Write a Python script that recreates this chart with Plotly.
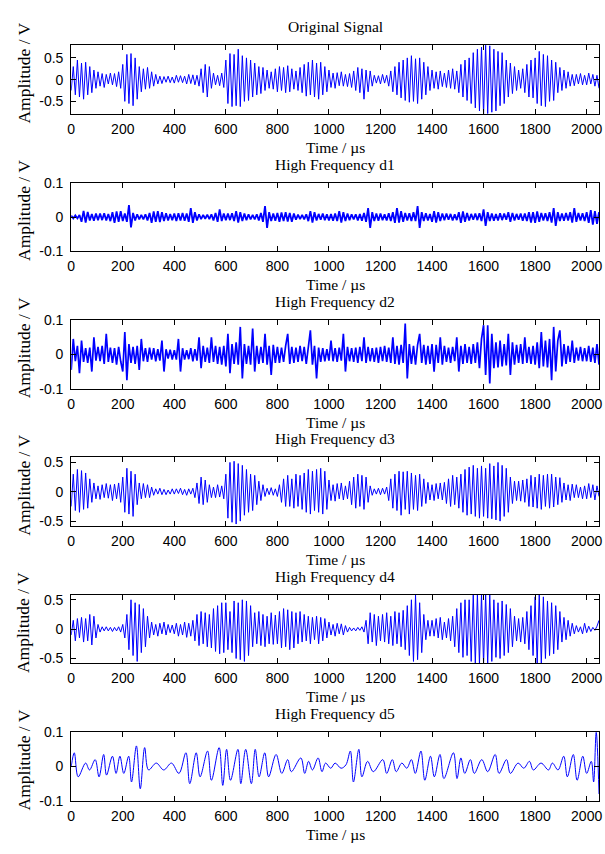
import numpy as np
import plotly.graph_objects as go

# ---------------- data ----------------
STEP_US = 8  # spacing of the read-off extrema, in microseconds

# Original signal, hundredths of a volt, one value every 8 us
orig_cV = [
    -25, 30, -35, 45, -40, 38, -45, 40, -35, 30, -30, 22, -20, 18, -15, 14, -18, 12, -10, 15, -12, 14, -16, 18, -20,
    35, -50, 58, -55, 60, -60, 50, -45, 30, -28, 25, -22, 28, -20, 18, -15, 12, -10, 8, -9, 7, -6, 8, -7, 6,
    -8, 10, -6, 9, -7, 8, -10, 12, -9, 11, -12, 10, -15, 25, -30, 35, -40, 30, -20, 15, -12, 10, -14, 15, -18,
    45, -55, 60, -62, 58, -60, 70, -62, 55, -50, 50, -48, 45, -40, 38, -35, 30, -32, 28, -25, 22, -20, 18, -22, 25,
    -28, 30, -25, 28, -30, 32, -28, 25, -22, 20, -25, 28, -30, 35, -38, 40, -35, 45, -40, 38, -45, 40, -35, 30, -28,
    22, -18, 15, -20, 16, -14, 18, -15, 12, -16, 14, -18, 20, -25, 28, -30, 25, -45, 22, -28, 20, -15, 10, -8, 9,
    -10, 12, -8, 10, -15, 20, -28, 30, -35, 40, -42, 45, -48, 50, -52, 55, -50, 48, -55, 50, -45, 40, -35, 30, -25,
    22, -20, 18, -22, 20, -16, 15, -18, 22, -20, 25, -22, 20, -30, 35, -40, 45, -48, 50, -55, 62, -65, 70, -72, 75,
    -80, 80, -78, 78, -75, 70, -72, 65, -60, 62, -55, 45, -40, 38, -32, 30, -25, 22, -20, 25, -30, 35, -40, 45, -42,
    50, -55, 65, -60, 58, -62, 55, -50, 45, -48, 40, -30, 28, -25, 22, -20, 18, -15, 12, -14, 12, -10, 14, -12, 10,
    -12, 15, -10, 12, -15, 10, -20,
]

# High frequency d1, thousandths of a volt
d1_mV = [
    4, -4, 5, -4, 6, -14, 18, -16, 15, -10, 9, -11, 10, -9, 10, -9, 11, -10, 9, -12, 14, -17, 16, -14, 17,
    -12, 10, -14, 35, -30, 12, -10, 8, -7, 6, -7, 8, -10, 12, -17, 16, -14, 17, -15, 14, -12, 11, -10, 9, -9,
    10, -12, 11, -10, 12, -11, 10, -14, 26, -17, 14, -10, 8, -6, 6, -5, 7, -6, 8, -10, 12, -14, 22, -12, 10,
    -9, 10, -9, 11, -12, 17, -16, 14, -12, 10, -9, 8, -7, 6, -7, 8, -10, 12, -14, 32, -32, 14, -12, 10, -11,
    12, -14, 13, -12, 14, -13, 12, -14, 10, -8, 7, -6, 6, -7, 8, -12, 17, -16, 14, -10, 9, -8, 10, -9, 8,
    -10, 9, -11, 10, -12, 17, -16, 14, -12, 10, -9, 8, -7, 8, -10, 9, -11, 12, -14, 26, -32, 14, -12, 10, -11,
    10, -9, 8, -10, 11, -12, 14, -17, 26, -16, 17, -14, 12, -10, 11, -12, 14, -12, 32, -32, 14, -12, 11, -10, 9,
    -14, 17, -16, 14, -12, 10, -9, 10, -8, 9, -10, 8, -9, 14, -17, 16, -14, 12, -10, 9, -8, 10, -9, 11, -12,
    22, -26, 14, -12, 10, -11, 9, -10, 11, -9, 10, -8, 14, -14, 12, -10, 9, -8, 10, -11, 10, -12, 14, -16, 14,
    -17, 16, -14, 12, -10, 11, -12, 14, -16, 26, -26, 14, -12, 10, -11, 12, -10, 14, -16, 26, -14, 12, -10, 11, -12,
    14, -17, 20, -22, 17, -20, 14,
]

# High frequency d2, thousandths of a volt
d2_mV = [
    -45, 45, -20, 25, -55, 40, -22, 18, -25, 20, -50, 50, -18, 22, -20, 25, -28, 60, -22, 20, -25, 18, -30, 22, -20,
    -50, 65, -75, 30, -25, 22, -28, 25, -45, 45, -20, 18, -22, 20, -15, 18, -20, 15, -18, 40, -50, 15, -12, 14, -15,
    12, -15, 45, -50, 18, -15, 12, -14, 18, -20, 15, -18, 50, -40, 25, -22, 20, -25, 50, -22, 25, -28, 22, -30, 25,
    -35, 60, -55, 30, -28, 35, -30, 80, -70, 30, -28, 25, -30, 75, -50, 25, -28, 22, -25, 60, -30, 25, -60, 28, -25,
    22, -25, 20, -22, 25, 60, -28, 22, -25, 20, -22, 25, -20, 22, -28, 25, 70, -30, 25, -70, 20, -22, 18, -20, 15,
    -18, 40, -20, 18, -22, 20, -18, 60, -50, 22, -20, 18, -22, 20, -25, 22, -20, 50, -25, 22, -20, 18, -22, 20, -25,
    22, -20, 25, -22, 20, -25, 50, -28, 25, -30, 28, -25, 90, -70, 30, -28, 25, -30, 28, 60, -25, 28, -30, 25, -28,
    30, -50, 28, -25, 50, -30, 25, -22, 20, -25, 22, -20, 50, -50, 25, -28, 30, -25, 22, -28, 30, -25, 35, -40, 45,
    85, -60, 85, -85, 60, -40, 35, -38, 40, -35, 30, -32, 60, -60, 35, -30, 28, -25, 30, -28, 50, -25, 22, -28, 25,
    -30, 35, -40, 65, -35, 40, -38, 45, -75, 80, -50, 40, 70, -35, 30, -28, 25, -22, 40, -25, 20, -18, 22, -20, 18,
    -20, 25, -22, 20, -25, 30, -30,
]

# High frequency d3, hundredths of a volt
d3_cV = [
    -25, 30, -32, 38, -35, 36, -30, 32, -28, 22, -18, 15, -12, 10, -13, 12, -10, 14, -11, 12, -15, 13, -12, 15, -18,
    25, -35, 40, -38, 35, -42, 30, -22, 15, -12, 14, -10, 12, -10, 8, -6, 5, -4, 6, -5, 4, -5, 3, -4, 5,
    -4, 5, -3, 6, -5, 4, -6, 5, -4, 6, -10, 15, -20, 25, -22, 20, -18, 12, -10, 8, -10, 12, -9, 10, -12,
    30, -45, 50, -52, 52, -55, 48, -50, 45, -40, 38, -35, 30, -32, 28, -22, 18, -15, 12, -8, 6, -5, 7, -6, 5,
    -8, 12, -18, 22, -25, 28, -25, 22, -28, 30, -25, 28, -30, 32, -35, 38, -38, 35, -32, 38, -35, 40, -38, 35, -30,
    20, -15, 12, -16, 14, -12, 15, -14, 10, -12, 18, -22, 25, -28, 30, -25, 28, -30, 25, -18, 10, -6, 5, -4, 6,
    -5, 6, -4, 8, -15, 22, -28, 30, -32, 35, -40, 34, -30, 35, -38, 32, -30, 28, -32, 30, -25, 22, -20, 16, -14,
    12, -15, 14, -12, 15, -14, 16, -20, 22, -25, 28, -22, 25, -28, 30, -35, 38, -40, 42, -38, 45, -42, 40, -45, 44,
    -42, 40, -45, 48, -46, 44, -48, 50, -50, 45, -42, 40, -35, 25, -20, 18, -15, 18, -16, 20, -18, 22, -25, 28, -26,
    25, -28, 30, -30, 28, -25, 30, -28, 30, -26, 25, -22, 24, -18, 15, -14, 12, -15, 13, -10, 12, -10, 8, -12, 10,
    -12, 14, -10, 12, -14, 10, -8,
]

# High frequency d4, hundredths of a volt
d4_cV = [
    -10, 15, -20, 18, -15, 20, -22, 18, -20, 25, -27, 22, -15, 8, -5, 4, -3, 4, -3, 3, -4, 3, -3, 4, -5,
    8, -15, 25, -35, 50, -45, 45, -55, 42, -40, 35, -30, 22, -15, 12, -10, 8, -12, 10, -8, 12, -10, 8, -6, 7,
    -8, 10, -12, 8, -10, 12, -14, 10, -12, 15, -20, 25, -28, 30, -25, 28, -30, 25, -32, 35, -38, 40, -42, 45, -40,
    45, -35, 30, -40, 48, -50, 45, -52, 50, -55, 48, -45, 40, -30, 28, -25, 30, -28, 25, -30, 22, -25, 28, -26, 24,
    -25, 30, -32, 35, -30, 33, -35, 30, -32, 28, -25, 30, -22, 25, -20, 22, -25, 20, -18, 22, -25, 20, -20, 18, -15,
    12, -10, 8, -12, 10, -8, 9, -10, 6, -5, 3, -3, 2, -3, 3, -2, 4, -5, 15, -25, 28, -22, 25, -28, 22,
    -20, 25, -22, 28, -25, 22, -28, 30, -25, 28, -30, 32, -35, 40, -45, 50, -55, 58, -52, 45, -40, 25, -18, 15, -12,
    15, -12, 18, -15, 20, -18, 12, -15, 18, -20, 22, -30, 35, -40, 45, -48, 50, -45, 50, -55, 60, -60, 60, -60, 60,
    -60, 60, -60, 60, -55, 50, -48, 45, -50, 48, -45, 42, -40, 35, -30, 22, -20, 18, -22, 20, -25, 30, -35, 40, -45,
    55, -60, 60, -60, 55, -50, 48, -45, 45, -42, 40, -35, 30, -22, 20, -18, 15, -12, 10, -8, 6, -5, 4, -8, 10,
    -6, 5, -4, 3, -2, 5, 15,
]

# High frequency d5: times (us) of the read-off extrema and values (mV)
d5_t_us = [
    0, 12, 27, 56, 71, 93, 108, 126, 137, 160, 174, 189, 204, 223, 234, 253, 268, 285, 300, 330,
    359, 389, 418, 445, 460, 485, 500, 529, 544, 574, 588, 603, 618, 647, 658, 677, 699, 714, 729, 751,
    766, 795, 817, 840, 854, 891, 906, 921, 936, 958, 973, 987, 1007, 1024, 1047, 1066, 1083, 1095, 1116, 1128,
    1150, 1172, 1209, 1224, 1246, 1261, 1283, 1302, 1320, 1335, 1357, 1372, 1394, 1409, 1431, 1446, 1483, 1497, 1512, 1527,
    1549, 1564, 1593, 1616, 1645, 1660, 1689, 1704, 1734, 1756, 1778, 1793, 1823, 1852, 1867, 1889, 1911, 1925, 1948, 1963,
    1985, 2000, 2018, 2027, 2037, 2048,
]
d5_mV = [
    0, 40, -30, 10, -10, 20, -30, 35, -25, 30, -20, 30, -20, 30, -45, 60, -65, 55, -10, 10,
    -10, 10, -20, 40, -50, 40, -30, 45, -40, 55, -55, 50, -40, 50, -50, 50, -50, 50, -30, 40,
    -30, 35, -20, 20, -15, 25, -20, 15, -10, 25, -15, 10, -5, 10, -5, 5, 45, -45, 50, -30,
    15, -15, 20, -20, 20, -15, 10, -5, 20, -20, 45, -40, 30, -30, 35, -35, 40, -35, 25, -20,
    20, -20, 20, -15, 35, -20, 20, -20, 10, -5, 15, -10, 10, -10, 10, -10, 30, -30, 35, -40,
    30, -20, 15, -45, 100, -80,
]

x_tick_vals = [0, 200, 400, 600, 800, 1000, 1200, 1400, 1600, 1800, 2000]
x_tick_text = ["0", "200", "400", "600", "800", "1000", "1200", "1400", "1600", "1800", "2000"]

panel_titles = ["Original Signal", "High Frequency d1", "High Frequency d2",
                "High Frequency d3", "High Frequency d4", "High Frequency d5"]
y_limits = [[-0.79, 0.79], [-0.1, 0.1], [-0.1, 0.1], [-0.585, 0.585], [-0.585, 0.585], [-0.1, 0.1]]
y_tick_vals = [[-0.5, 0, 0.5], [-0.1, 0, 0.1], [-0.1, 0, 0.1],
               [-0.5, 0, 0.5], [-0.5, 0, 0.5], [-0.1, 0, 0.1]]
y_tick_text = [["-0.5", "0", "0.5"], ["-0.1", "0", "0.1"], ["-0.1", "0", "0.1"],
               ["-0.5", "0", "0.5"], ["-0.5", "0", "0.5"], ["-0.1", "0", "0.1"]]
x_label = "Time / µs"
y_label = "Amplitude / V"

# ---------------- figure ----------------
W, H = 605, 854
LEFT, RIGHT = 68, 602
TOPS = [38, 178, 318, 458, 598, 738]
BOX_H = 70
SERIF = "Liberation Serif, Times New Roman, serif"
SANS = "Liberation Sans, Arial, sans-serif"

series = [
    (np.arange(len(orig_cV)) * STEP_US, np.array(orig_cV) / 100.0, "linear", 1.0),
    (np.arange(len(d1_mV)) * STEP_US, np.array(d1_mV) / 1000.0, "linear", 1.8),
    (np.arange(len(d2_mV)) * STEP_US, np.array(d2_mV) / 1000.0, "linear", 1.7),
    (np.arange(len(d3_cV)) * STEP_US, np.array(d3_cV) / 100.0, "linear", 1.0),
    (np.arange(len(d4_cV)) * STEP_US, np.array(d4_cV) / 100.0, "linear", 1.0),
    (np.array(d5_t_us), np.array(d5_mV) / 1000.0, "spline", 1.0),
]

fig = go.Figure()
layout = dict(
    width=W, height=H,
    margin=dict(l=0, r=0, t=0, b=0),
    paper_bgcolor="white", plot_bgcolor="white",
    showlegend=False,
    annotations=[],
)

for i, (xs, ys, shape, lw) in enumerate(series):
    n = "" if i == 0 else str(i + 1)
    xa, ya = "x" + n, "y" + n
    fig.add_trace(go.Scatter(
        x=xs, y=ys, mode="lines",
        line=dict(color="#0000ff", width=lw, shape=shape),
        xaxis=xa, yaxis=ya, hoverinfo="skip", showlegend=False,
    ))
    top = TOPS[i]
    bot = top + BOX_H
    common = dict(showline=True, linecolor="black", linewidth=1, mirror="ticks",
                  ticks="inside", ticklen=5, tickcolor="black", tickwidth=1,
                  showgrid=False, zeroline=False, ticklabeloverflow="allow",
                  tickfont=dict(family=SANS, size=14, color="black"))
    layout["xaxis" + n] = dict(
        domain=[LEFT / W, RIGHT / W], range=[0, 2048], anchor=ya,
        tickmode="array", tickvals=x_tick_vals, ticktext=x_tick_text,
        ticklabelstandoff=2, **common)
    layout["yaxis" + n] = dict(
        domain=[1 - bot / H, 1 - top / H], range=y_limits[i], anchor=xa,
        tickmode="array", tickvals=y_tick_vals[i], ticktext=y_tick_text[i],
        ticklabelstandoff=4, **common)
    cx = (LEFT + RIGHT) / 2 / W
    layout["annotations"] += [
        dict(text=panel_titles[i], xref="paper", yref="paper", x=cx, y=1 - (top - 19) / H,
             xanchor="center", yanchor="middle", showarrow=False,
             font=dict(family=SERIF, size=15.5, color="black")),
        dict(text=x_label, xref="paper", yref="paper", x=cx, y=1 - (bot + 34) / H,
             xanchor="center", yanchor="middle", showarrow=False,
             font=dict(family=SERIF, size=15.5, color="black")),
        dict(text=y_label, xref="paper", yref="paper", x=20 / W, y=1 - (top + 35 - 7) / H,
             xanchor="center", yanchor="middle", showarrow=False, textangle=-90,
             font=dict(family=SERIF, size=17.5, color="black")),
    ]

fig.update_layout(**layout)
fig.write_html(
    "out.html",
    config={"displayModeBar": False, "responsive": False},
    post_script=("document.body.style.margin='0';"
                 "document.body.style.overflow='hidden';"
                 "document.documentElement.style.overflow='hidden';"),
)
